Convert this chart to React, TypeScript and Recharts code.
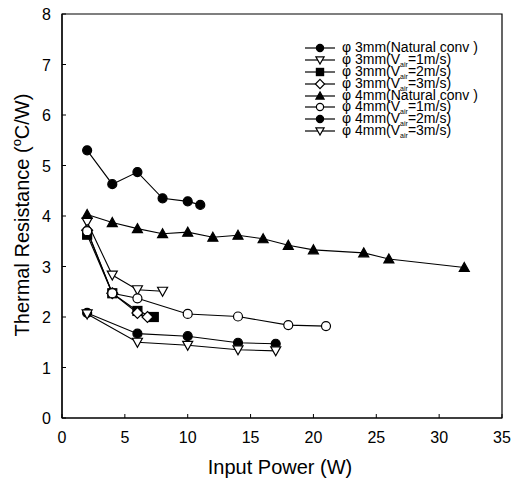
import React from 'react'
import {
  ScatterChart, Scatter, XAxis, YAxis, ReferenceArea, Label,
} from 'recharts'

// x = input power (W), y = thermal resistance (°C/W)
const p3NatX = [2, 4, 6, 8, 10, 11]
const p3NatY = [5.3, 4.63, 4.87, 4.35, 4.29, 4.22]
const p3V1X = [2, 4, 6, 8]
const p3V1Y = [3.88, 2.83, 2.54, 2.51]
const p3V2X = [2, 4, 6, 7.3]
const p3V2Y = [3.63, 2.47, 2.12, 2.0]
const p3V3X = [2, 4, 6, 6.8]
const p3V3Y = [3.72, 2.47, 2.08, 2.0]
const p4NatX = [2, 4, 6, 8, 10, 12, 14, 16, 18, 20, 24, 26, 32]
const p4NatY = [4.03, 3.87, 3.75, 3.65, 3.68, 3.58, 3.62, 3.55, 3.42, 3.33, 3.27, 3.15, 2.98]
const p4V1X = [2, 4, 6, 10, 14, 18, 21]
const p4V1Y = [3.7, 2.47, 2.37, 2.06, 2.01, 1.84, 1.82]
const p4V2X = [2, 6, 10, 14, 17]
const p4V2Y = [2.08, 1.67, 1.62, 1.49, 1.47]
const p4V3X = [2, 6, 10, 14, 17]
const p4V3Y = [2.06, 1.5, 1.44, 1.35, 1.33]

const xTicks = [0, 5, 10, 15, 20, 25, 30, 35]
const yTicks = [0, 1, 2, 3, 4, 5, 6, 7, 8]

const FONT = '"Liberation Sans", Arial, sans-serif'
const PLOT_LEFT = 62
const PLOT_BOTTOM = 418

type Kind = 'dot' | 'ring' | 'square' | 'diamond' | 'tri' | 'triDown'

const zip = (xs: number[], ys: number[]) => xs.map((x, i) => ({ x, y: ys[i] }))

const series: { name: string; air?: string; kind: Kind; data: { x: number; y: number }[] }[] = [
  { name: '3mm(Natural conv )', kind: 'dot', data: zip(p3NatX, p3NatY) },
  { name: '3mm', air: '1m/s', kind: 'triDown', data: zip(p3V1X, p3V1Y) },
  { name: '3mm', air: '2m/s', kind: 'square', data: zip(p3V2X, p3V2Y) },
  { name: '3mm', air: '3m/s', kind: 'diamond', data: zip(p3V3X, p3V3Y) },
  { name: '4mm(Natural conv )', kind: 'tri', data: zip(p4NatX, p4NatY) },
  { name: '4mm', air: '1m/s', kind: 'ring', data: zip(p4V1X, p4V1Y) },
  { name: '4mm', air: '2m/s', kind: 'dot', data: zip(p4V2X, p4V2Y) },
  { name: '4mm', air: '3m/s', kind: 'triDown', data: zip(p4V3X, p4V3Y) },
]

function Marker({ kind, cx, cy, r = 4.5 }: { kind: Kind; cx: number; cy: number; r?: number }) {
  const s = { stroke: '#000', strokeWidth: 1.2 }
  switch (kind) {
    case 'dot':
      return <circle cx={cx} cy={cy} r={r} fill="#000" {...s} />
    case 'ring':
      return <circle cx={cx} cy={cy} r={r} fill="#fff" {...s} />
    case 'square':
      return <rect x={cx - r} y={cy - r} width={r * 2} height={r * 2} fill="#000" {...s} />
    case 'diamond':
      return <polygon points={`${cx},${cy - r - 1} ${cx + r + 1},${cy} ${cx},${cy + r + 1} ${cx - r - 1},${cy}`} fill="#fff" {...s} />
    case 'tri':
      return <polygon points={`${cx},${cy - r - 0.5} ${cx + r + 0.5},${cy + r - 0.5} ${cx - r - 0.5},${cy + r - 0.5}`} fill="#000" {...s} />
    case 'triDown':
      return <polygon points={`${cx - r - 0.5},${cy - r + 0.5} ${cx + r + 0.5},${cy - r + 0.5} ${cx},${cy + r + 0.5}`} fill="#fff" {...s} />
  }
}

function XTick({ x, payload }: any) {
  const px = payload.coordinate ?? x
  return (
    <g>
      <line x1={px} x2={px} y1={PLOT_BOTTOM} y2={PLOT_BOTTOM - 4} stroke="#000" />
      <text x={px} y={PLOT_BOTTOM + 25} textAnchor="middle" fontSize={16} fontFamily={FONT} fill="#000">
        {payload.value}
      </text>
    </g>
  )
}

function YTick({ y, payload }: any) {
  const py = payload.coordinate ?? y
  return (
    <g>
      <line x1={PLOT_LEFT} x2={PLOT_LEFT + 4} y1={py} y2={py} stroke="#000" />
      <text x={PLOT_LEFT - 11} y={py + 6} textAnchor="end" fontSize={16} fontFamily={FONT} fill="#000">
        {payload.value}
      </text>
    </g>
  )
}

function LegendBox() {
  return (
    <div
      style={{
        position: 'absolute', left: 303, top: 42, fontFamily: FONT, fontSize: 14, color: '#000',
      }}
    >
      {series.map((s, i) => (
        <div key={i} style={{ display: 'flex', alignItems: 'center', height: 11.9, lineHeight: '11.9px', whiteSpace: 'nowrap' }}>
          <svg width={34} height={12} style={{ marginRight: 5, flex: 'none' }}>
            <line x1={2} x2={32} y1={6} y2={6} stroke="#000" strokeWidth={1.2} />
            <Marker kind={s.kind} cx={17} cy={6} r={3.6} />
          </svg>
          <span>
            φ {s.air ? (
              <>
                {s.name}(V<span style={{ fontSize: 7, verticalAlign: -3, lineHeight: 0 }}>air</span>={s.air})
              </>
            ) : s.name}
          </span>
        </div>
      ))}
    </div>
  )
}

export default function App() {
  return (
    <div style={{ position: 'absolute', left: 0, top: 0, width: 512, height: 483, background: '#fff' }}>
      <ScatterChart width={512} height={483} margin={{ top: 14, right: 10, left: 0, bottom: 0 }}>
        <XAxis
          type="number"
          dataKey="x"
          domain={[0, 35]}
          ticks={xTicks}
          height={65}
          tickSize={0}
          tickLine={false}
          tick={<XTick />}
          axisLine={{ stroke: '#000', strokeWidth: 1.2 }}
          interval={0}
        >
          <Label
            content={() => (
              <text x={280} y={474} textAnchor="middle" fontSize={20} fontFamily={FONT} fill="#000">
                Input Power (W)
              </text>
            )}
          />
        </XAxis>
        <YAxis
          type="number"
          dataKey="y"
          domain={[0, 8]}
          ticks={yTicks}
          width={62}
          tickSize={0}
          tickLine={false}
          tick={<YTick />}
          axisLine={{ stroke: '#000', strokeWidth: 1.2 }}
          interval={0}
        >
          <Label
            content={() => (
              <text
                transform="translate(29,215) rotate(-90)"
                textAnchor="middle"
                fontSize={20}
                fontFamily={FONT}
                fill="#000"
              >
                <tspan>Thermal Resistance (</tspan>
                <tspan fontSize={13} dy={-8}>o</tspan>
                <tspan dy={8}>C/W)</tspan>
              </text>
            )}
          />
        </YAxis>
        <ReferenceArea x1={0} x2={35} y1={0} y2={8} fill="none" stroke="#000" strokeWidth={1.2} ifOverflow="visible" />
        {series.map((s, i) => (
          <Scatter
            key={i}
            data={s.data}
            fill="#000"
            line={{ stroke: '#000', strokeWidth: 1.1 }}
            shape={(p: any) => <Marker kind={s.kind} cx={p.cx} cy={p.cy} />}
            isAnimationActive={false}
          />
        ))}
      </ScatterChart>
      <LegendBox />
    </div>
  )
}
